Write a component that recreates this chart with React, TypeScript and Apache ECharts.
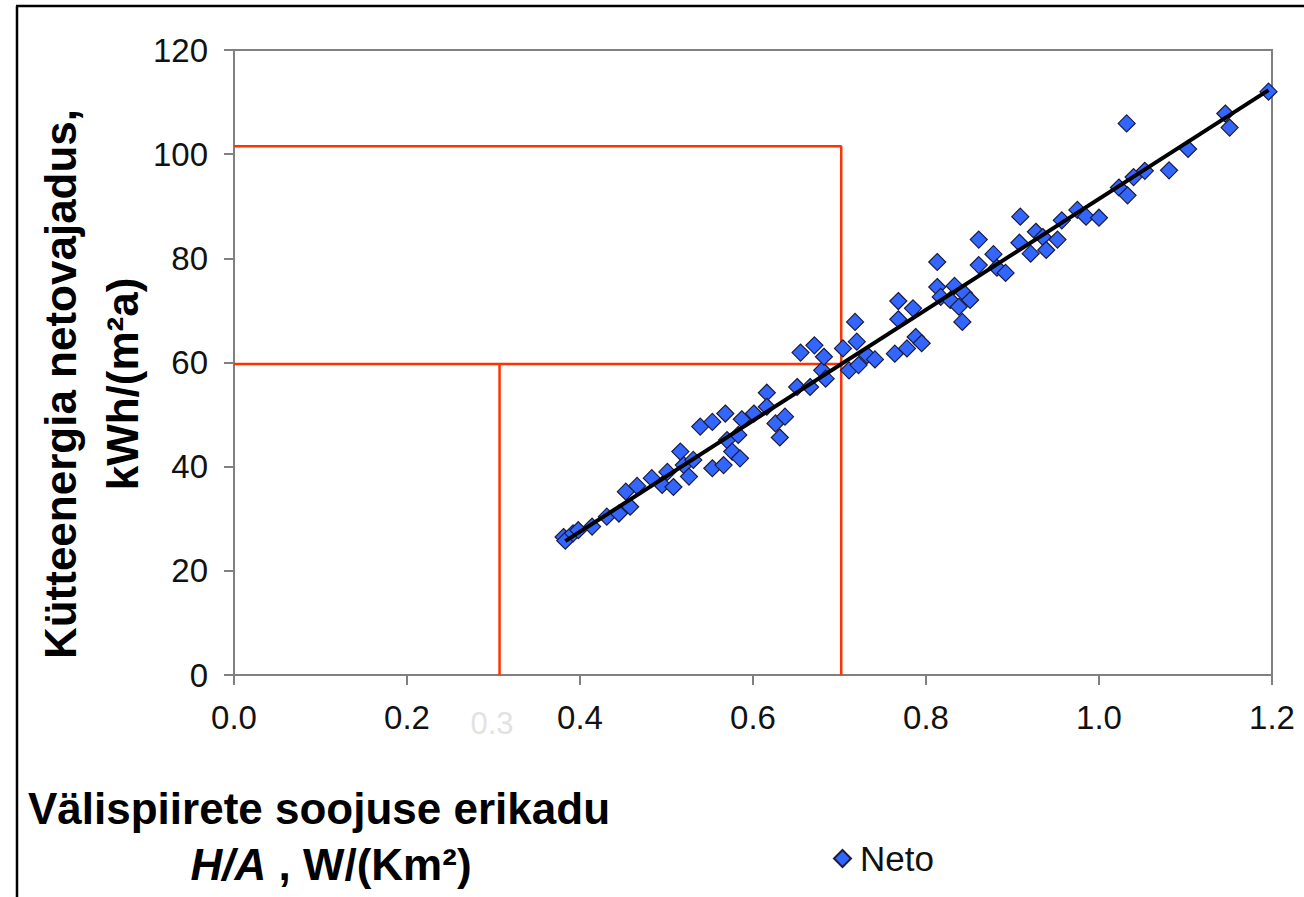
import React, { useEffect, useRef } from "react";
import * as echarts from "echarts";

// Measured points (H/A, W/(Km²)) -> net heating energy need, kWh/(m²a)
const hxValues = [0.381,0.383,0.392,0.398,0.414,0.431,0.445,0.453,0.458,0.466,0.483,0.495,0.501,0.508,0.516,0.520,0.526,0.531,0.539,0.553,0.553,0.566,0.568,0.570,0.576,0.583,0.585,0.587,0.601,0.616,0.616,0.626,0.631,0.637,0.651,0.655,0.666,0.671,0.680,0.682,0.684,0.704,0.711,0.718,0.720,0.722,0.732,0.741,0.764,0.768,0.768,0.778,0.785,0.788,0.795,0.813,0.813,0.817,0.828,0.833,0.838,0.844,0.842,0.851,0.861,0.861,0.878,0.882,0.892,0.908,0.909,0.921,0.927,0.935,0.939,0.952,0.957,0.975,0.985,1.000,1.023,1.032,1.033,1.040,1.053,1.081,1.103,1.146,1.151,1.196];
const netoValues = [26.5,25.8,27.2,27.8,28.5,30.4,31.0,35.2,32.3,36.3,37.8,36.5,39.0,36.1,42.9,40.3,38.1,41.3,47.7,48.6,39.7,40.3,50.2,45.1,42.9,46.1,41.6,49.1,50.2,54.2,51.5,48.3,45.6,49.6,55.3,61.9,55.3,63.3,58.5,61.1,56.9,62.7,58.5,67.8,64.0,59.5,61.4,60.6,61.7,71.8,68.3,62.7,70.4,64.9,63.7,79.3,74.5,72.6,72.0,74.7,70.7,73.3,67.8,72.0,83.6,78.7,80.8,78.2,77.2,83.0,88.0,80.9,85.1,84.1,81.6,83.6,87.3,89.3,88.0,87.8,93.6,105.9,92.1,95.6,96.8,96.9,101.0,107.8,105.1,112.0];

// Trend line end points
const trendX = [0.383, 1.196];
const trendY = [25.7, 112.3];

// Red reading guides
const guideUpperX = [0, 0.702, 0.702];
const guideUpperY = [101.5, 101.5, 0];
const guideLowerX = [0, 0.702];
const guideLowerY = [59.7, 59.7];
const guideVertX = [0.307, 0.307];
const guideVertY = [59.7, 0];

const xTicks = { min: 0, max: 1.2, interval: 0.2 };
const yTicks = { min: 0, max: 120, interval: 20 };

const seriesName = "Neto";
const yTitle = "Kütteenergia netovajadus,\nkWh/(m²a)";
const xTitle1 = "Välispiirete soojuse erikadu";
const FONT = "'Liberation Sans', Arial, Helvetica, sans-serif";

const pairs = (xs: number[], ys: number[]) => xs.map((x, i) => [x, ys[i]]);

export default function App() {
  const ref = useRef<HTMLDivElement>(null);
  useEffect(() => {
    if (!ref.current) return;
    const chart = echarts.init(ref.current, null, { renderer: "svg" });
    const axisGray = "#808080";
    const red = "#ff3300";
    chart.setOption({
      animation: false,
      backgroundColor: "#ffffff",
      textStyle: { fontFamily: FONT },
      grid: {
        left: 234,
        right: 32,
        top: 50,
        bottom: 222,
        show: true,
        borderColor: axisGray,
        borderWidth: 2,
        containLabel: false,
      },
      xAxis: {
        type: "value",
        min: xTicks.min,
        max: xTicks.max,
        interval: xTicks.interval,
        axisLine: { show: true, onZero: false, lineStyle: { color: axisGray, width: 2 } },
        axisTick: { show: true, length: 10, lineStyle: { color: axisGray, width: 2 } },
        splitLine: { show: false },
        axisLabel: {
          color: "#111",
          fontSize: 33,
          fontFamily: FONT,
          margin: 26,
          formatter: (v: number) => v.toFixed(1),
        },
      },
      yAxis: {
        type: "value",
        min: yTicks.min,
        max: yTicks.max,
        interval: yTicks.interval,
        axisLine: { show: true, onZero: false, lineStyle: { color: axisGray, width: 2 } },
        axisTick: { show: true, length: 10, lineStyle: { color: axisGray, width: 2 } },
        splitLine: { show: false },
        axisLabel: { color: "#111", fontSize: 33, fontFamily: FONT, margin: 26 },
      },
      legend: {
        data: [{ name: seriesName, icon: "diamond" }],
        left: 828,
        top: 836,
        itemWidth: 17,
        itemHeight: 17,
        textStyle: { fontSize: 35, color: "#111", fontFamily: FONT, padding: [0, 0, 0, 4] },
      },
      series: [
        {
          type: "line",
          name: "guideUpper",
          data: pairs(guideUpperX, guideUpperY),
          symbol: "none",
          lineStyle: { color: red, width: 2.5 },
          z: 1,
          silent: true,
        },
        {
          type: "line",
          name: "guideLower",
          data: pairs(guideLowerX, guideLowerY),
          symbol: "none",
          lineStyle: { color: red, width: 2.5 },
          z: 1,
          silent: true,
        },
        {
          type: "line",
          name: "guideVert",
          data: pairs(guideVertX, guideVertY),
          symbol: "none",
          lineStyle: { color: red, width: 2.5 },
          z: 1,
          silent: true,
        },
        {
          type: "scatter",
          name: seriesName,
          data: pairs(hxValues, netoValues),
          symbol: "diamond",
          symbolSize: 17,
          itemStyle: { color: "#3366ff", borderColor: "#1c1c3c", borderWidth: 1.2, opacity: 1 },
          z: 3,
        },
        {
          type: "line",
          name: "trend",
          data: pairs(trendX, trendY),
          symbol: "none",
          lineStyle: { color: "#000000", width: 4 },
          z: 4,
          silent: true,
        },
      ],
      graphic: [
        { type: "line", shape: { x1: 16, y1: 6, x2: 1304, y2: 6 }, style: { stroke: "#000", lineWidth: 2.5 } },
        { type: "line", shape: { x1: 17, y1: 6, x2: 17, y2: 897 }, style: { stroke: "#000", lineWidth: 2.5 } },
        {
          type: "text",
          x: 91,
          y: 384,
          rotation: Math.PI / 2,
          style: {
            text: yTitle,
            fontSize: 44,
            fontWeight: "bold",
            fontFamily: FONT,
            fill: "#000",
            align: "center",
            verticalAlign: "middle",
            lineHeight: 62,
          },
        },
        {
          type: "text",
          x: 28,
          y: 808,
          style: {
            text: xTitle1,
            fontSize: 44,
            fontWeight: "bold",
            fontFamily: FONT,
            fill: "#000",
            align: "left",
            verticalAlign: "middle",
          },
        },
        {
          type: "text",
          x: 331,
          y: 864,
          style: {
            text: "{i|H/A}{b| , W/(Km²)}",
            align: "center",
            verticalAlign: "middle",
            rich: {
              i: { fontSize: 44, fontWeight: "bold", fontStyle: "italic", fontFamily: FONT, fill: "#000" },
              b: { fontSize: 44, fontWeight: "bold", fontFamily: FONT, fill: "#000" },
            },
          },
        },
        {
          type: "text",
          x: 492,
          y: 723,
          style: {
            text: "0.3",
            fontSize: 31,
            fontFamily: FONT,
            fill: "#e2e2e2",
            align: "center",
            verticalAlign: "middle",
          },
        },
      ],
    });
    return () => chart.dispose();
  }, []);
  return (
    <div
      ref={ref}
      style={{ position: "fixed", left: 0, top: 0, width: 1304, height: 897, background: "#fff" }}
    />
  );
}
